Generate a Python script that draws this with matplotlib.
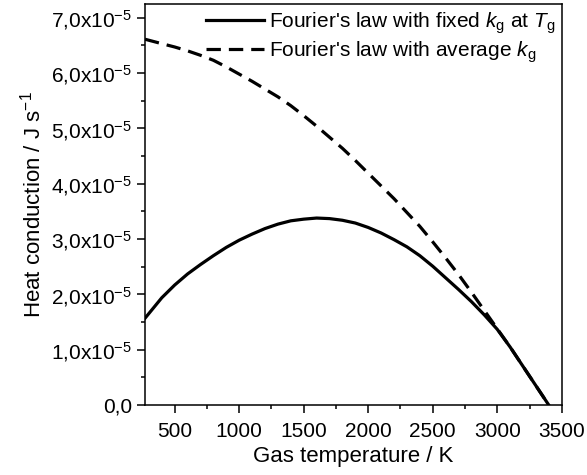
import numpy as np
import matplotlib
matplotlib.use("Agg")
from matplotlib import pyplot as plt
from matplotlib.ticker import MultipleLocator, FuncFormatter

plt.rcParams['font.family'] = ['Liberation Sans', 'DejaVu Sans']
plt.rcParams['mathtext.fontset'] = 'custom'
plt.rcParams['mathtext.rm'] = 'Liberation Sans'
plt.rcParams['mathtext.it'] = 'Liberation Sans:italic'

# gas temperature (K)
T = [270, 400, 500, 600, 700, 800, 900, 1000, 1100, 1200, 1300, 1400, 1500,
     1600, 1700, 1800, 1900, 2000, 2100, 2200, 2300, 2400, 2500, 2600, 2700,
     2800, 2900, 3000, 3100, 3200, 3300, 3400]
# heat conduction (x1e-5 J/s), fixed k_g at T_g
q_fixed = [1.57, 1.94, 2.17, 2.37, 2.54, 2.70, 2.85, 2.98, 3.09, 3.19, 3.27,
           3.33, 3.36, 3.38, 3.37, 3.34, 3.29, 3.21, 3.11, 2.99, 2.86, 2.70,
           2.51, 2.30, 2.09, 1.87, 1.63, 1.37, 1.05, 0.70, 0.35, 0.0]
# heat conduction (x1e-5 J/s), average k_g
q_avg = [6.61, 6.53, 6.47, 6.40, 6.32, 6.23, 6.11, 5.98, 5.85, 5.71, 5.57,
         5.41, 5.23, 5.04, 4.84, 4.64, 4.42, 4.19, 3.96, 3.73, 3.48, 3.23,
         2.95, 2.66, 2.36, 2.04, 1.71, 1.38, 1.05, 0.70, 0.35, 0.0]

T = np.array(T)
q_fixed = np.array(q_fixed) * 1e-5
q_avg = np.array(q_avg) * 1e-5

fig = plt.figure(figsize=(5.87, 4.75), dpi=100)
ax = fig.add_axes([0.247, 0.147, 0.71, 0.845])

ax.plot(T, q_fixed, color='black', lw=2.3, solid_joinstyle='round',
        label=r"Fourier's law with fixed $k_{\mathrm{g}}$ at $T_{\mathrm{g}}$")
ax.plot(T, q_avg, color='black', lw=2.3, dashes=(4.5, 2.5),
        label=r"Fourier's law with average $k_{\mathrm{g}}$")

ax.set_xlim(270, 3500)
ax.set_ylim(0, 7.25e-5)
ax.xaxis.set_major_locator(MultipleLocator(500))
ax.xaxis.set_minor_locator(MultipleLocator(250))
ax.yaxis.set_major_locator(MultipleLocator(1e-5))
ax.yaxis.set_minor_locator(MultipleLocator(0.5e-5))

def yfmt(v, pos):
    if abs(v) < 1e-12:
        return "0,0"
    return ("%.1f" % (v * 1e5)).replace('.', ',') + r"x10$^{-5}$"

ax.yaxis.set_major_formatter(FuncFormatter(yfmt))
ax.tick_params(which='both', direction='out', top=False, right=False,
               labelsize=15, width=1.1)
ax.tick_params(which='major', length=5.8)
ax.tick_params(axis='x', which='major', pad=6)
ax.tick_params(which='minor', length=3)
for s in ax.spines.values():
    s.set_linewidth(1.1)

ax.set_xlabel("Gas temperature / K", fontsize=16, labelpad=4)
ax.set_ylabel(r"Heat conduction / J s$^{-1}$", fontsize=16, labelpad=4)

ax.legend(loc='upper right', frameon=False, fontsize=15, handlelength=2.8,
          handletextpad=0.25, borderaxespad=0.0, borderpad=0.3,
          labelspacing=0.18)

fig.savefig("out.png", dpi=100)
